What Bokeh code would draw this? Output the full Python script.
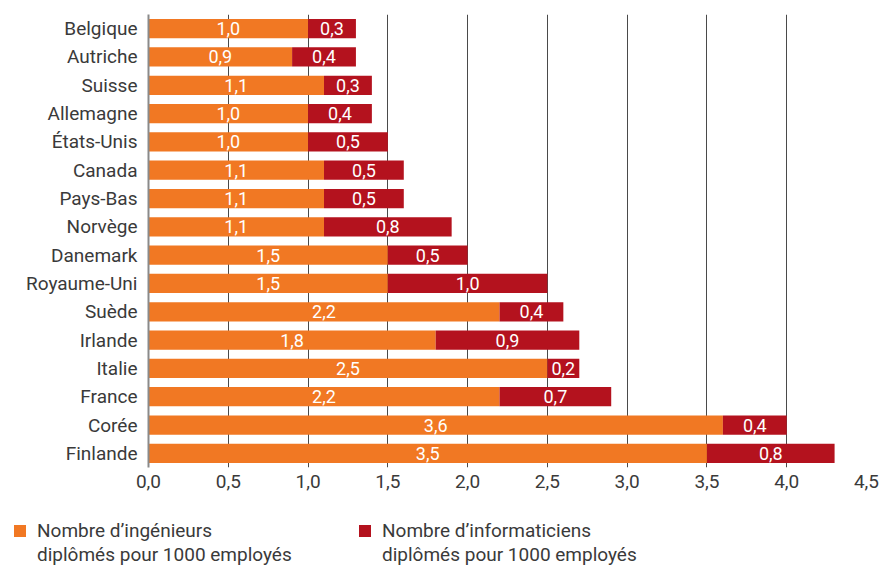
from bokeh.plotting import figure
from bokeh.layouts import column
from bokeh.models import (ColumnDataSource, FactorRange, Range1d, Legend, LegendItem,
                          FixedTicker, CustomJSTickFormatter)
from bokeh.core.properties import value
from bokeh.embed import file_html
from bokeh.resources import INLINE

countries = ["Belgique", "Autriche", "Suisse", "Allemagne", "États-Unis", "Canada",
             "Pays-Bas", "Norvège", "Danemark", "Royaume-Uni", "Suède", "Irlande",
             "Italie", "France", "Corée", "Finlande"]
ingenieurs = [1.0, 0.9, 1.1, 1.0, 1.0, 1.1, 1.1, 1.1, 1.5, 1.5, 2.2, 1.8, 2.5, 2.2, 3.6, 3.5]
informaticiens = [0.3, 0.4, 0.3, 0.4, 0.5, 0.5, 0.5, 0.8, 0.5, 1.0, 0.4, 0.9, 0.2, 0.7, 0.4, 0.8]
x_ticks = [0.0, 0.5, 1.0, 1.5, 2.0, 2.5, 3.0, 3.5, 4.0, 4.5]
legend_line1 = ["Nombre d’ingénieurs", "Nombre d’informaticiens"]
legend_line2 = ["diplômés pour 1000 employés", "diplômés pour 1000 employés"]

ORANGE = "#F17823"
RED = "#B4121E"
TXT = "#3a3a3a"
FONT = "Roboto"
FS = "19px"
FS_BAR = "18px"

def fr(v):
    return f"{v:.1f}".replace(".", ",")

total = [a + b for a, b in zip(ingenieurs, informaticiens)]
src = ColumnDataSource(dict(
    country=countries,
    ing=ingenieurs,
    inf=informaticiens,
    total=total,
    ing_mid=[a / 2 for a in ingenieurs],
    inf_mid=[a + b / 2 for a, b in zip(ingenieurs, informaticiens)],
    ing_lbl=[fr(v) for v in ingenieurs],
    inf_lbl=[fr(v) for v in informaticiens],
))

p = figure(y_range=FactorRange(factors=countries[::-1]),
           x_range=Range1d(0, 4.5),
           width=893, height=505,
           min_border_left=148, min_border_right=27,
           min_border_top=14, min_border_bottom=38,
           output_backend="svg", toolbar_location=None,
           background_fill_color="white", border_fill_color="white")
p.outline_line_color = None

r1 = p.hbar(y="country", left=0, right="ing", height=0.68, source=src,
            fill_color=ORANGE, line_color=None)
r2 = p.hbar(y="country", left="ing", right="total", height=0.68, source=src,
            fill_color=RED, line_color=None)

p.text(x="ing_mid", y="country", text="ing_lbl", source=src, text_align="center",
       text_baseline="middle", text_color="white", text_font=value(FONT),
       text_font_size=FS_BAR)
p.text(x="inf_mid", y="country", text="inf_lbl", source=src, text_align="center",
       text_baseline="middle", text_color="white", text_font=value(FONT),
       text_font_size=FS_BAR)

# grids
p.ygrid.grid_line_color = None
p.xgrid.grid_line_color = "#4a4a4a"
p.xgrid.grid_line_width = 1
p.xaxis.ticker = FixedTicker(ticks=x_ticks)

# x axis
p.xaxis.axis_line_color = None
p.xaxis.major_tick_line_color = None
p.xaxis.minor_tick_line_color = None
p.xaxis.major_label_standoff = 1
p.xaxis.formatter = CustomJSTickFormatter(code="return tick.toFixed(1).replace('.', ',');")
p.xaxis.major_label_text_font = FONT
p.xaxis.major_label_text_font_size = FS
p.xaxis.major_label_text_color = TXT

# y axis
p.yaxis.axis_line_color = "#8a8a8a"
p.yaxis.axis_line_width = 2
p.yaxis.major_tick_line_color = None
p.yaxis.minor_tick_line_color = None
p.yaxis.major_label_standoff = 5
p.yaxis.major_label_text_font = FONT
p.yaxis.major_label_text_font_size = FS
p.yaxis.major_label_text_color = TXT

# legend figure below the chart (its bars lie outside its x range: only the legends show)
lg = figure(width=893, height=61, x_range=Range1d(10, 11), y_range=Range1d(10, 11),
            min_border_left=0, min_border_right=0, min_border_top=0, min_border_bottom=0,
            output_backend="svg", toolbar_location=None,
            background_fill_color="white", border_fill_color="white")
lg.axis.visible = False
lg.grid.grid_line_color = None
lg.outline_line_color = None
e1 = lg.hbar(y="ing", left=0, right="ing", height=0.1, source=src,
             fill_color=ORANGE, line_color=None)
e2 = lg.hbar(y="ing", left="ing", right="total", height=0.1, source=src,
             fill_color=RED, line_color=None)
e0 = lg.hbar(y="ing", left=0, right="ing", height=0.1, source=src,
             fill_alpha=0, line_color=None)

common = dict(orientation="horizontal", glyph_width=15, glyph_height=15,
              label_standoff=10, label_width=270, label_height=24, spacing=50,
              padding=0, margin=0, border_line_color=None, background_fill_alpha=0,
              label_text_font=FONT, label_text_font_size=FS, label_text_color=TXT)

legend1 = Legend(items=[LegendItem(label=legend_line1[0], renderers=[e1]),
                        LegendItem(label=legend_line1[1], renderers=[e2])],
                 location=(12, 24), **common)
legend2 = Legend(items=[LegendItem(label=legend_line2[0], renderers=[e0]),
                        LegendItem(label=legend_line2[1], renderers=[e0])],
                 location=(12, 0), **common)
lg.add_layout(legend1, "center")
lg.add_layout(legend2, "center")

layout = column(p, column(lg, spacing=0), spacing=0)
open("out.html", "w").write(file_html(layout, INLINE))
